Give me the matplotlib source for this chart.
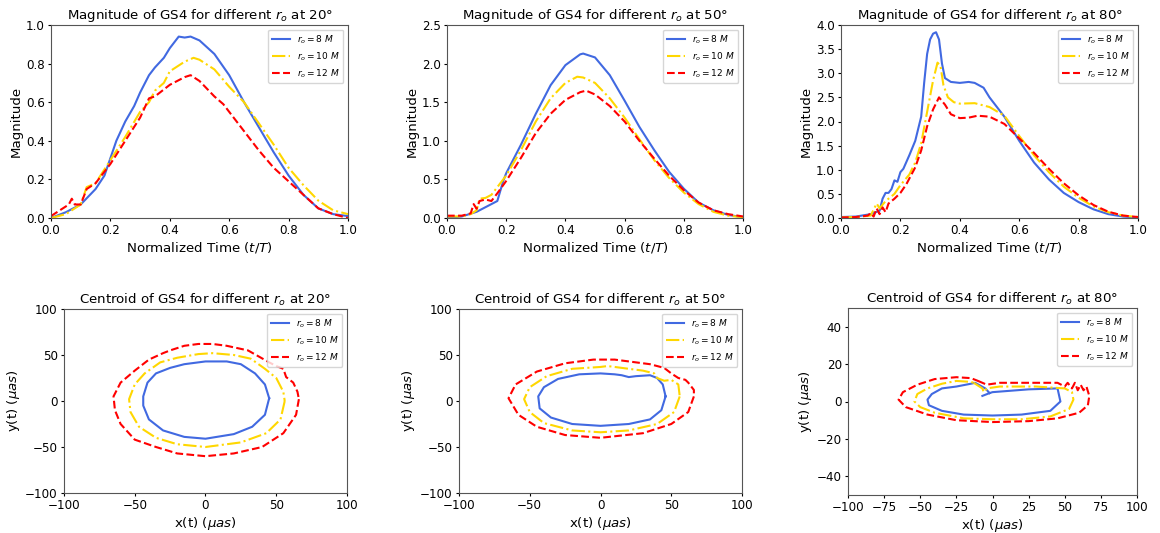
import numpy as np
import matplotlib
matplotlib.use("Agg")
import matplotlib.pyplot as plt

# ---- magnitude curves (t/T, magnitude) ----
t20_8 = [0, 0.05, 0.1, 0.15, 0.18, 0.2, 0.22, 0.25, 0.28, 0.3, 0.33, 0.35, 0.38, 0.4, 0.43, 0.45,
         0.47, 0.5, 0.55, 0.6, 0.65, 0.7, 0.75, 0.8, 0.85, 0.9, 0.95, 1.0]
m20_8 = [0, 0.03, 0.07, 0.15, 0.22, 0.31, 0.4, 0.5, 0.58, 0.65, 0.74, 0.78, 0.83, 0.88, 0.94, 0.935,
         0.94, 0.92, 0.85, 0.74, 0.6, 0.47, 0.34, 0.22, 0.12, 0.05, 0.02, 0.01]
t20_10 = [0, 0.05, 0.1, 0.12, 0.15, 0.2, 0.25, 0.3, 0.33, 0.35, 0.38, 0.4, 0.45, 0.48, 0.5, 0.55,
          0.6, 0.65, 0.7, 0.75, 0.8, 0.85, 0.9, 0.95, 1.0]
m20_10 = [0, 0.02, 0.07, 0.16, 0.18, 0.3, 0.42, 0.55, 0.6, 0.66, 0.7, 0.76, 0.81, 0.83, 0.82, 0.77,
          0.68, 0.6, 0.49, 0.38, 0.26, 0.17, 0.09, 0.04, 0.02]
t20_12 = [0, 0.03, 0.06, 0.07, 0.08, 0.1, 0.12, 0.15, 0.2, 0.25, 0.3, 0.33, 0.35, 0.4, 0.45, 0.47,
          0.5, 0.55, 0.58, 0.6, 0.65, 0.7, 0.75, 0.8, 0.85, 0.9, 0.95, 1.0]
m20_12 = [0.01, 0.04, 0.07, 0.1, 0.07, 0.07, 0.15, 0.18, 0.28, 0.4, 0.52, 0.62, 0.63, 0.69, 0.73, 0.74,
          0.71, 0.63, 0.59, 0.55, 0.45, 0.35, 0.26, 0.19, 0.12, 0.05, 0.02, 0.0]

t50_8 = [0, 0.05, 0.1, 0.15, 0.17, 0.19, 0.2, 0.25, 0.3, 0.35, 0.4, 0.45, 0.46, 0.5, 0.55, 0.6,
         0.65, 0.7, 0.75, 0.8, 0.85, 0.9, 0.95, 1.0]
m50_8 = [0, 0.02, 0.08, 0.18, 0.22, 0.48, 0.58, 0.95, 1.35, 1.72, 1.98, 2.12, 2.13, 2.08, 1.85, 1.52,
         1.18, 0.88, 0.6, 0.38, 0.2, 0.1, 0.04, 0.01]
t50_10 = [0, 0.05, 0.08, 0.1, 0.11, 0.13, 0.15, 0.18, 0.2, 0.25, 0.3, 0.35, 0.4, 0.44, 0.46, 0.5,
          0.55, 0.6, 0.65, 0.7, 0.75, 0.8, 0.85, 0.9, 0.95, 1.0]
m50_10 = [0.02, 0.02, 0.05, 0.1, 0.25, 0.26, 0.3, 0.45, 0.55, 0.88, 1.25, 1.55, 1.75, 1.83, 1.82, 1.75,
          1.55, 1.3, 1.02, 0.75, 0.52, 0.33, 0.18, 0.08, 0.03, 0.01]
t50_12 = [0, 0.05, 0.08, 0.09, 0.1, 0.11, 0.13, 0.15, 0.17, 0.2, 0.25, 0.3, 0.35, 0.4, 0.45, 0.47,
          0.5, 0.55, 0.6, 0.65, 0.7, 0.75, 0.8, 0.85, 0.9, 0.95, 1.0]
m50_12 = [0.03, 0.03, 0.06, 0.18, 0.12, 0.22, 0.24, 0.22, 0.32, 0.48, 0.78, 1.1, 1.35, 1.53, 1.63, 1.65,
          1.6, 1.45, 1.25, 1.0, 0.77, 0.55, 0.36, 0.2, 0.1, 0.05, 0.02]

t80_8 = [0, 0.05, 0.1, 0.13, 0.14, 0.15, 0.16, 0.17, 0.18, 0.19, 0.2, 0.21, 0.23, 0.25, 0.27, 0.28,
         0.29, 0.3, 0.31, 0.32, 0.33, 0.34, 0.35, 0.37, 0.4, 0.43, 0.45, 0.48, 0.5, 0.55, 0.6, 0.65,
         0.7, 0.75, 0.8, 0.85, 0.9, 0.95, 1.0]
m80_8 = [0.02, 0.03, 0.08, 0.15, 0.4, 0.52, 0.52, 0.6, 0.78, 0.75, 0.95, 1.02, 1.3, 1.6, 2.1, 2.8,
         3.4, 3.7, 3.82, 3.85, 3.7, 3.2, 2.9, 2.82, 2.8, 2.82, 2.8, 2.7, 2.5, 2.1, 1.6, 1.15,
         0.8, 0.52, 0.33, 0.18, 0.08, 0.03, 0.01]
t80_10 = [0, 0.05, 0.1, 0.12, 0.13, 0.15, 0.18, 0.2, 0.23, 0.25, 0.27, 0.29, 0.31, 0.325, 0.335,
          0.345, 0.36, 0.38, 0.4, 0.45, 0.5, 0.55, 0.6, 0.65, 0.7, 0.75, 0.8, 0.85, 0.9, 0.95, 1.0]
m80_10 = [0.01, 0.02, 0.05, 0.3, 0.2, 0.35, 0.5, 0.68, 0.9, 1.15, 1.55, 2.2, 2.85, 3.22, 3.15,
          2.75, 2.5, 2.4, 2.37, 2.38, 2.3, 2.12, 1.7, 1.3, 0.95, 0.65, 0.42, 0.24, 0.12, 0.05, 0.02]
t80_12 = [0, 0.05, 0.09, 0.1, 0.11, 0.12, 0.13, 0.14, 0.15, 0.16, 0.18, 0.2, 0.22, 0.25, 0.27, 0.29,
          0.31, 0.33, 0.35, 0.37, 0.4, 0.43, 0.46, 0.5, 0.55, 0.6, 0.65, 0.7, 0.75, 0.8, 0.85, 0.9,
          0.95, 1.0]
m80_12 = [0.01, 0.02, 0.05, 0.1, 0.03, 0.2, 0.08, 0.22, 0.12, 0.3, 0.4, 0.52, 0.7, 1.05, 1.4, 1.9,
          2.25, 2.5, 2.35, 2.15, 2.07, 2.08, 2.12, 2.1, 1.95, 1.65, 1.35, 1.02, 0.72, 0.47, 0.27, 0.13,
          0.05, 0.02]

# ---- centroid tracks (x, y) in micro-arcsec ----
x20_8 = [45, 42, 33, 20, 0, -15, -30, -40, -44, -44, -41, -35, -25, -15, -5, 0, 15, 25, 35, 42, 45]
y20_8 = [3, -15, -28, -36, -41, -39, -32, -20, -5, 5, 20, 30, 36, 40, 42, 43, 43, 40, 30, 18, 3]
x20_10 = [56, 53, 43, 25, 0, -20, -35, -47, -53, -54, -50, -43, -32, -20, -5, 5, 20, 32, 42, 50, 55, 56]
y20_10 = [0, -20, -35, -45, -50, -47, -40, -28, -12, 2, 18, 30, 42, 47, 51, 52, 50, 46, 35, 25, 10, 0]
x20_12 = [66, 64, 55, 40, 20, 0, -20, -35, -50, -60, -64, -65, -60, -50, -40, -30, -25, -15, -5, 5,
          15, 30, 45, 50, 55, 57, 62, 65, 66]
y20_12 = [2, -15, -35, -50, -57, -60, -57, -50, -42, -25, -10, 5, 20, 33, 45, 52, 55, 60, 62, 62,
          60, 55, 42, 38, 35, 26, 20, 10, 2]

x50_8 = [46, 43, 35, 20, 0, -20, -35, -43, -44, -40, -30, -15, 0, 10, 15, 20, 25, 35, 40, 44, 46]
y50_8 = [5, -10, -20, -25, -27, -25, -18, -8, 5, 15, 24, 29, 30, 29, 28, 26, 27, 28, 25, 18, 5]
x50_10 = [56, 52, 40, 20, 0, -20, -40, -50, -54, -50, -38, -20, 0, 5, 15, 30, 38, 40, 45, 50, 55, 56]
y50_10 = [5, -12, -25, -32, -34, -32, -24, -12, 2, 15, 27, 35, 37, 38, 36, 33, 30, 25, 22, 23, 18, 5]
x50_12 = [66, 62, 50, 30, 0, -25, -45, -58, -65, -60, -45, -25, -5, 10, 20, 35, 45, 50, 55, 60, 62, 66, 66]
y50_12 = [5, -12, -25, -35, -40, -37, -28, -15, 3, 18, 32, 41, 45, 45, 43, 40, 36, 30, 25, 23, 20, 12, 5]

x80_8 = [-7, -2, 0, 25, 45, 47, 40, 20, 0, -20, -35, -44, -45, -42, -35, -25, -15, -12, -5, -2]
y80_8 = [3, 4.5, 5, 6.5, 7, 0, -5, -7, -7.5, -7, -5, -2, 1, 4, 7, 8, 9.5, 10, 7, 4.5]
x80_10 = [-13, -7, -6, -4, 5, 20, 30, 40, 50, 55, 56, 53, 40, 20, 0, -20, -40, -50, -54, -52, -45,
          -35, -25, -15, -13]
y80_10 = [10, 7, 5, 7, 8, 8, 8, 7.5, 7, 5, 1, -4, -8, -9.5, -9.5, -9, -6, -3, 0, 4, 7,
          9.5, 11, 10.5, 10]
x80_12 = [-10, -4, 5, 20, 35, 45, 50, 52, 55, 57, 59, 61, 63, 65, 67, 66, 60, 45, 25, 0, -25, -45,
          -60, -65, -62, -52, -40, -25, -15, -10]
y80_12 = [11, 9, 10, 10, 10, 10, 8, 10, 7, 10, 6, 9, 6, 8, 3, -2, -6, -9, -10.5, -11, -10, -7,
          -3, 1, 5, 9, 12, 13, 12.5, 11]

angles = [20, 50, 80]
radii = [8, 10, 12]
colors = ['royalblue', 'gold', 'red']
styles = ['-', '-.', '--']

mag_t = [[t20_8, t20_10, t20_12], [t50_8, t50_10, t50_12], [t80_8, t80_10, t80_12]]
mag_v = [[m20_8, m20_10, m20_12], [m50_8, m50_10, m50_12], [m80_8, m80_10, m80_12]]
cen_x = [[x20_8, x20_10, x20_12], [x50_8, x50_10, x50_12], [x80_8, x80_10, x80_12]]
cen_y = [[y20_8, y20_10, y20_12], [y50_8, y50_10, y50_12], [y80_8, y80_10, y80_12]]
mag_ylim = [1.0, 2.5, 4.0]
cen_ylim = [100, 100, 50]

plt.rcParams['font.size'] = 9.6
plt.rcParams['xtick.labelsize'] = 8.6
plt.rcParams['ytick.labelsize'] = 8.6
plt.rcParams['xtick.major.size'] = 2.5
plt.rcParams['ytick.major.size'] = 2.5
plt.rcParams['xtick.major.pad'] = 2
plt.rcParams['ytick.major.pad'] = 2
plt.rcParams['axes.labelpad'] = 2
plt.rcParams['axes.edgecolor'] = '#555555'

fig = plt.figure(figsize=(11.6, 5.33), dpi=100)
W, H = 1160.0, 533.0
top_boxes = [(51, 25, 348, 218), (447, 25, 743, 218), (841, 25, 1138, 218)]
bot_boxes = [(64, 309, 347, 493), (459, 309, 742, 493), (848, 308, 1137, 495)]


def add_box(box):
    x0, y0, x1, y1 = box
    return fig.add_axes([x0 / W, 1 - y1 / H, (x1 - x0) / W, (y1 - y0) / H])


for i, ang in enumerate(angles):
    ax = add_box(top_boxes[i])
    for j, r in enumerate(radii):
        ax.plot(mag_t[i][j], mag_v[i][j], color=colors[j], linestyle=styles[j],
                linewidth=1.5, label=rf'$r_o = {r}\ M$')
    ax.set_xlim(0, 1)
    ax.set_ylim(0, mag_ylim[i])
    ax.set_xlabel(r'Normalized Time ($t/T$)')
    ax.set_ylabel('Magnitude')
    ax.set_title(rf'Magnitude of GS4 for different $r_o$ at {ang}°', pad=4, fontsize=9.6)
    ax.legend(loc='upper right', fontsize=6.5)

    ax = add_box(bot_boxes[i])
    for j, r in enumerate(radii):
        ax.plot(cen_x[i][j], cen_y[i][j], color=colors[j], linestyle=styles[j],
                linewidth=1.5, label=rf'$r_o = {r}\ M$')
    ax.set_xlim(-100, 100)
    ax.set_ylim(-cen_ylim[i], cen_ylim[i])
    ax.set_xlabel(r'x(t) ($\mu as$)')
    ax.set_ylabel(r'y(t) ($\mu as$)')
    ax.set_title(rf'Centroid of GS4 for different $r_o$ at {ang}°', pad=4, fontsize=9.6)
    ax.legend(loc='upper right', fontsize=6.5)

fig.savefig('out.png', dpi=100)
